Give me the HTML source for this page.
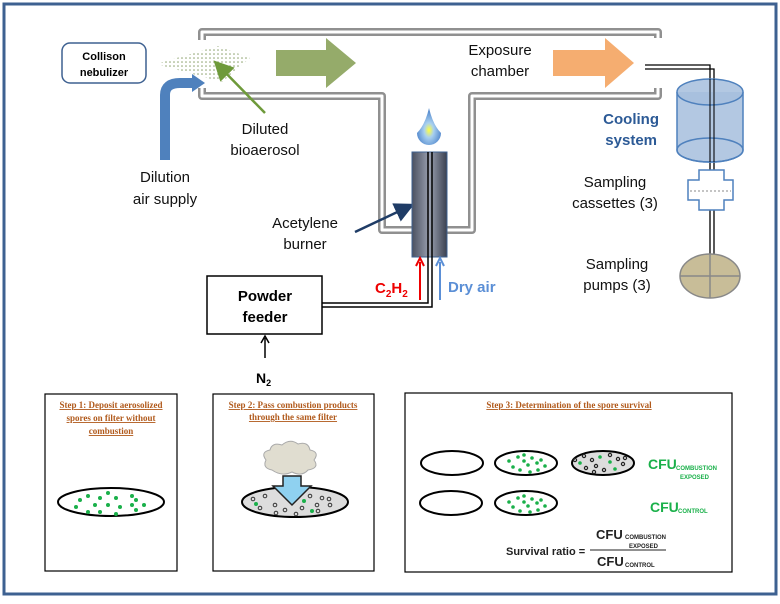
<!DOCTYPE html>
<html><head><meta charset="utf-8"><style>
body{margin:0;background:#fff}
svg text{font-family:"Liberation Sans",sans-serif}
.s{font-family:"Liberation Serif",serif;font-weight:bold;font-size:9px;fill:#b15a1c;text-decoration:underline}
</style></head><body>
<svg width="780" height="599" viewBox="0 0 780 599" xmlns="http://www.w3.org/2000/svg">
<defs>
<pattern id="dots" width="4" height="4" patternUnits="userSpaceOnUse"><circle cx="2" cy="2" r="0.8" fill="#8aa06a"/></pattern>
<linearGradient id="bur" x1="0" x2="1"><stop offset="0" stop-color="#4a5060"/><stop offset="0.5" stop-color="#9aa0b0"/><stop offset="1" stop-color="#3a4050"/></linearGradient>
<radialGradient id="fl" cx="0.5" cy="0.6" r="0.5"><stop offset="0" stop-color="#ffff40"/><stop offset="0.4" stop-color="#a8d0f0"/><stop offset="1" stop-color="#5a8ed0"/></radialGradient>
<marker id="ab" markerWidth="8" markerHeight="8" refX="6" refY="4" orient="auto"><path d="M0,0L8,4L0,8z" fill="#1f3c66"/></marker>
<marker id="ag" markerWidth="8" markerHeight="8" refX="6" refY="4" orient="auto"><path d="M0,0L8,4L0,8z" fill="#6e9a3a"/></marker>
</defs>
<rect x="4" y="4" width="772" height="590" fill="none" stroke="#3e6191" stroke-width="3"/>
<g fill="none" stroke-linejoin="round">
<path d="M202,40 V32 H658 V40" stroke="#909090" stroke-width="8"/>
<path d="M202,40 V32 H658 V40" stroke="#fff" stroke-width="3"/>
<path d="M202,88 V96 H382 V230 H412" stroke="#909090" stroke-width="8"/>
<path d="M202,88 V96 H382 V230 H412" stroke="#fff" stroke-width="3"/>
<path d="M447,230 H472 V96 H658 V88" stroke="#909090" stroke-width="8"/>
<path d="M447,230 H472 V96 H658 V88" stroke="#fff" stroke-width="3"/>
</g>
<rect x="645" y="38" width="25" height="48" fill="#fff"/>
<rect x="62" y="43" width="84" height="40" rx="8" fill="#fff" stroke="#3e6191" stroke-width="1.5"/>
<text x="104" y="60" font-size="11" font-weight="bold" text-anchor="middle">Collison</text>
<text x="104" y="76" font-size="11" font-weight="bold" text-anchor="middle">nebulizer</text>
<path d="M156,64 L218,46 L250,58 L222,82 Z" fill="url(#dots)"/>
<path d="M276,50 H326 V38 L356,63 L326,88 V76 H276 Z" fill="#95ab6a"/>
<path d="M165,160 V95 Q165,83 180,83 H193" fill="none" stroke="#4f81bd" stroke-width="10"/>
<path d="M192,74 L205,83 L192,92 Z" fill="#4f81bd"/>
<line x1="265" y1="113" x2="217" y2="64" stroke="#6e9a3a" stroke-width="2.5" marker-end="url(#ag)"/>
<g font-size="15" text-anchor="middle" fill="#111">
<text x="265" y="134">Diluted</text><text x="265" y="155">bioaerosol</text>
<text x="165" y="182">Dilution</text><text x="165" y="204">air supply</text>
<text x="305" y="228">Acetylene</text><text x="305" y="249">burner</text>
<text x="500" y="55">Exposure</text><text x="500" y="76">chamber</text>
<text x="615" y="187">Sampling</text><text x="615" y="208">cassettes (3)</text>
<text x="617" y="269">Sampling</text><text x="617" y="290">pumps (3)</text>
</g>
<path d="M553,50 H605 V38 L634,63 L605,88 V76 H553 Z" fill="#f5ad70"/>
<line x1="355" y1="232" x2="410" y2="206" stroke="#1f3c66" stroke-width="2.5" marker-end="url(#ab)"/>
<path d="M429,108 Q433,125 441,133 A12,12 0 1 1 417,133 Q425,125 429,108Z" fill="url(#fl)"/>
<rect x="412" y="152" width="35" height="105" fill="url(#bur)" stroke="#3e6191"/>
<path d="M428,152 V303 H322" fill="none" stroke="#000" stroke-width="1.5"/>
<path d="M432,152 V307 H322" fill="none" stroke="#000" stroke-width="1.5"/>
<line x1="420" y1="300" x2="420" y2="262" stroke="#e00" stroke-width="2"/>
<path d="M416,266 L420,258 L424,266" fill="none" stroke="#e00" stroke-width="2"/>
<line x1="440" y1="300" x2="440" y2="262" stroke="#5b8fd6" stroke-width="2"/>
<path d="M436,266 L440,258 L444,266" fill="none" stroke="#5b8fd6" stroke-width="2"/>
<text x="375" y="293" font-size="15" font-weight="bold" fill="#e00">C<tspan font-size="10" dy="4">2</tspan><tspan dy="-4">H</tspan><tspan font-size="10" dy="4">2</tspan></text>
<text x="448" y="292" font-size="15" font-weight="bold" fill="#5b8fd6">Dry air</text>
<rect x="207" y="276" width="115" height="58" fill="#fff" stroke="#000" stroke-width="1.5"/>
<text x="265" y="301" font-size="15" font-weight="bold" text-anchor="middle">Powder</text>
<text x="265" y="322" font-size="15" font-weight="bold" text-anchor="middle">feeder</text>
<line x1="265" y1="358" x2="265" y2="338" stroke="#000" stroke-width="1.5"/>
<path d="M261,343 L265,336 L269,343" fill="none" stroke="#000" stroke-width="1.5"/>
<text x="256" y="383" font-size="14" font-weight="bold">N<tspan font-size="9" dy="3">2</tspan></text>
<path d="M645,65 H710 V256" fill="none" stroke="#000" stroke-width="1.3"/>
<path d="M645,69 H714 V256" fill="none" stroke="#000" stroke-width="1.3"/>
<path d="M677,92 V150 A33,12 0 0 0 743,150 V92" fill="#a6bedd" fill-opacity="0.85" stroke="#4f81bd" stroke-width="1.5"/>
<ellipse cx="710" cy="92" rx="33" ry="13" fill="#a6bedd" fill-opacity="0.85" stroke="#4f81bd" stroke-width="1.5"/>
<ellipse cx="710" cy="150" rx="33" ry="12" fill="none" stroke="#4f81bd" stroke-width="1.5"/>
<line x1="710" y1="79" x2="710" y2="162" stroke="#000" stroke-width="1"/><line x1="714" y1="79" x2="714" y2="162" stroke="#000" stroke-width="1"/>
<text x="659" y="124" font-size="15" font-weight="bold" fill="#2c5a96" text-anchor="end">Cooling</text>
<text x="657" y="145" font-size="15" font-weight="bold" fill="#2c5a96" text-anchor="end">system</text>
<path d="M699,170 H724 V180 H733 V200 H724 V210 H699 V200 H688 V180 H699 Z" fill="#fff" stroke="#4f81bd" stroke-width="1.5"/>
<line x1="690" y1="191" x2="731" y2="191" stroke="#888" stroke-dasharray="2,2"/>
<ellipse cx="710" cy="276" rx="30" ry="22" fill="#c8bd98" stroke="#888" stroke-width="1.5"/>
<line x1="680" y1="276" x2="740" y2="276" stroke="#888" stroke-width="1.5"/><line x1="710" y1="254" x2="710" y2="298" stroke="#888" stroke-width="1.5"/>
<rect x="45" y="394" width="132" height="177" fill="#fff" stroke="#000" stroke-width="1.2"/>
<rect x="213" y="394" width="161" height="177" fill="#fff" stroke="#000" stroke-width="1.2"/>
<rect x="405" y="393" width="327" height="179" fill="#fff" stroke="#000" stroke-width="1.2"/>
<g text-anchor="middle">
<text class="s" x="111" y="408">Step 1: Deposit aerosolized</text>
<text class="s" x="111" y="421">spores on filter without</text>
<text class="s" x="111" y="434">combustion</text>
<text class="s" x="293" y="408">Step 2: Pass combustion products</text>
<text class="s" x="293" y="420">through the same filter</text>
<text class="s" x="569" y="408">Step 3: Determination of the spore survival</text>
</g>
<ellipse cx="111" cy="502" rx="53" ry="14" fill="#fff" stroke="#000" stroke-width="2"/>
<g fill="#1ab04a">
<circle cx="80" cy="500" r="2"/><circle cx="88" cy="496" r="2"/><circle cx="100" cy="498" r="2"/><circle cx="108" cy="493" r="2"/><circle cx="116" cy="498" r="2"/><circle cx="132" cy="496" r="2"/><circle cx="95" cy="505" r="2"/><circle cx="108" cy="505" r="2"/><circle cx="120" cy="507" r="2"/><circle cx="132" cy="505" r="2"/><circle cx="136" cy="500" r="2"/><circle cx="144" cy="505" r="2"/><circle cx="76" cy="507" r="2"/><circle cx="88" cy="512" r="2"/><circle cx="100" cy="512" r="2"/><circle cx="116" cy="514" r="2"/><circle cx="136" cy="510" r="2"/></g>
<ellipse cx="295" cy="502" rx="53" ry="15" fill="#ddd" stroke="#000" stroke-width="2"/>
<g fill="none" stroke="#333" stroke-width="1">
<circle cx="253" cy="499" r="1.8"/><circle cx="265" cy="496" r="1.8"/><circle cx="260" cy="508" r="1.8"/><circle cx="275" cy="505" r="1.8"/><circle cx="285" cy="510" r="1.8"/><circle cx="296" cy="514" r="1.8"/><circle cx="310" cy="496" r="1.8"/><circle cx="317" cy="505" r="1.8"/><circle cx="322" cy="498" r="1.8"/><circle cx="329" cy="499" r="1.8"/><circle cx="330" cy="505" r="1.8"/><circle cx="318" cy="511" r="1.8"/><circle cx="276" cy="513" r="1.8"/><circle cx="302" cy="508" r="1.8"/></g>
<g fill="#1ab04a"><circle cx="256" cy="504" r="2"/><circle cx="304" cy="501" r="2"/><circle cx="312" cy="511" r="2"/><circle cx="288" cy="494" r="2"/></g>
<path d="M283,476 H301 V486 H311 L292,505 L273,486 H283 Z" fill="#8fd1f0" stroke="#222" stroke-width="1.5"/>
<path d="M272,470 Q262,468 266,460 Q260,452 270,450 Q272,442 282,445 Q290,438 298,444 Q308,441 310,450 Q320,452 314,460 Q320,468 308,470 Q302,477 292,472 Q282,477 272,470Z" fill="#e0ddd0" stroke="#aaa"/>
<g fill="#fff" stroke="#000" stroke-width="2">
<ellipse cx="452" cy="463" rx="31" ry="12"/><ellipse cx="526" cy="463" rx="31" ry="12"/><ellipse cx="603" cy="463" rx="31" ry="12" fill="#ddd"/>
<ellipse cx="451" cy="503" rx="31" ry="12"/><ellipse cx="526" cy="503" rx="31" ry="12"/></g>
<g fill="#1ab04a">
<circle cx="509" cy="461" r="1.8"/><circle cx="513" cy="467" r="1.8"/><circle cx="518" cy="457" r="1.8"/><circle cx="524" cy="461" r="1.8"/><circle cx="528" cy="465" r="1.8"/><circle cx="532" cy="458" r="1.8"/><circle cx="537" cy="463" r="1.8"/><circle cx="541" cy="460" r="1.8"/><circle cx="545" cy="466" r="1.8"/><circle cx="520" cy="470" r="1.8"/><circle cx="530" cy="472" r="1.8"/><circle cx="538" cy="470" r="1.8"/><circle cx="524" cy="455" r="1.8"/>
<circle cx="509" cy="502" r="1.8"/><circle cx="513" cy="507" r="1.8"/><circle cx="518" cy="498" r="1.8"/><circle cx="524" cy="502" r="1.8"/><circle cx="528" cy="506" r="1.8"/><circle cx="532" cy="499" r="1.8"/><circle cx="537" cy="503" r="1.8"/><circle cx="541" cy="500" r="1.8"/><circle cx="545" cy="506" r="1.8"/><circle cx="520" cy="511" r="1.8"/><circle cx="530" cy="512" r="1.8"/><circle cx="538" cy="510" r="1.8"/><circle cx="524" cy="496" r="1.8"/>
<circle cx="580" cy="463" r="1.8"/><circle cx="600" cy="457" r="1.8"/><circle cx="610" cy="462" r="1.8"/><circle cx="615" cy="469" r="1.8"/></g>
<g fill="none" stroke="#222" stroke-width="1.2">
<circle cx="584" cy="456" r="1.6"/><circle cx="592" cy="460" r="1.6"/><circle cx="586" cy="468" r="1.6"/><circle cx="596" cy="466" r="1.6"/><circle cx="604" cy="470" r="1.6"/><circle cx="610" cy="455" r="1.6"/><circle cx="618" cy="459" r="1.6"/><circle cx="623" cy="464" r="1.6"/><circle cx="625" cy="458" r="1.6"/><circle cx="575" cy="460" r="1.6"/><circle cx="594" cy="472" r="1.6"/></g>
<g fill="#1ab04a" font-weight="bold">
<text x="648" y="469" font-size="14">CFU</text><text x="676" y="470" font-size="6">COMBUSTION</text><text x="680" y="479" font-size="6">EXPOSED</text>
<text x="650" y="512" font-size="14">CFU</text><text x="678" y="513" font-size="6">CONTROL</text></g>
<g font-weight="bold" fill="#222">
<text x="506" y="555" font-size="11">Survival ratio  =</text>
<text x="596" y="539" font-size="13">CFU</text><text x="625" y="539" font-size="6">COMBUSTION</text><text x="629" y="548" font-size="6">EXPOSED</text>
<line x1="590" y1="550" x2="666" y2="550" stroke="#222" stroke-width="1"/>
<text x="597" y="566" font-size="13">CFU</text><text x="625" y="567" font-size="6">CONTROL</text></g>
</svg>
</body></html>
